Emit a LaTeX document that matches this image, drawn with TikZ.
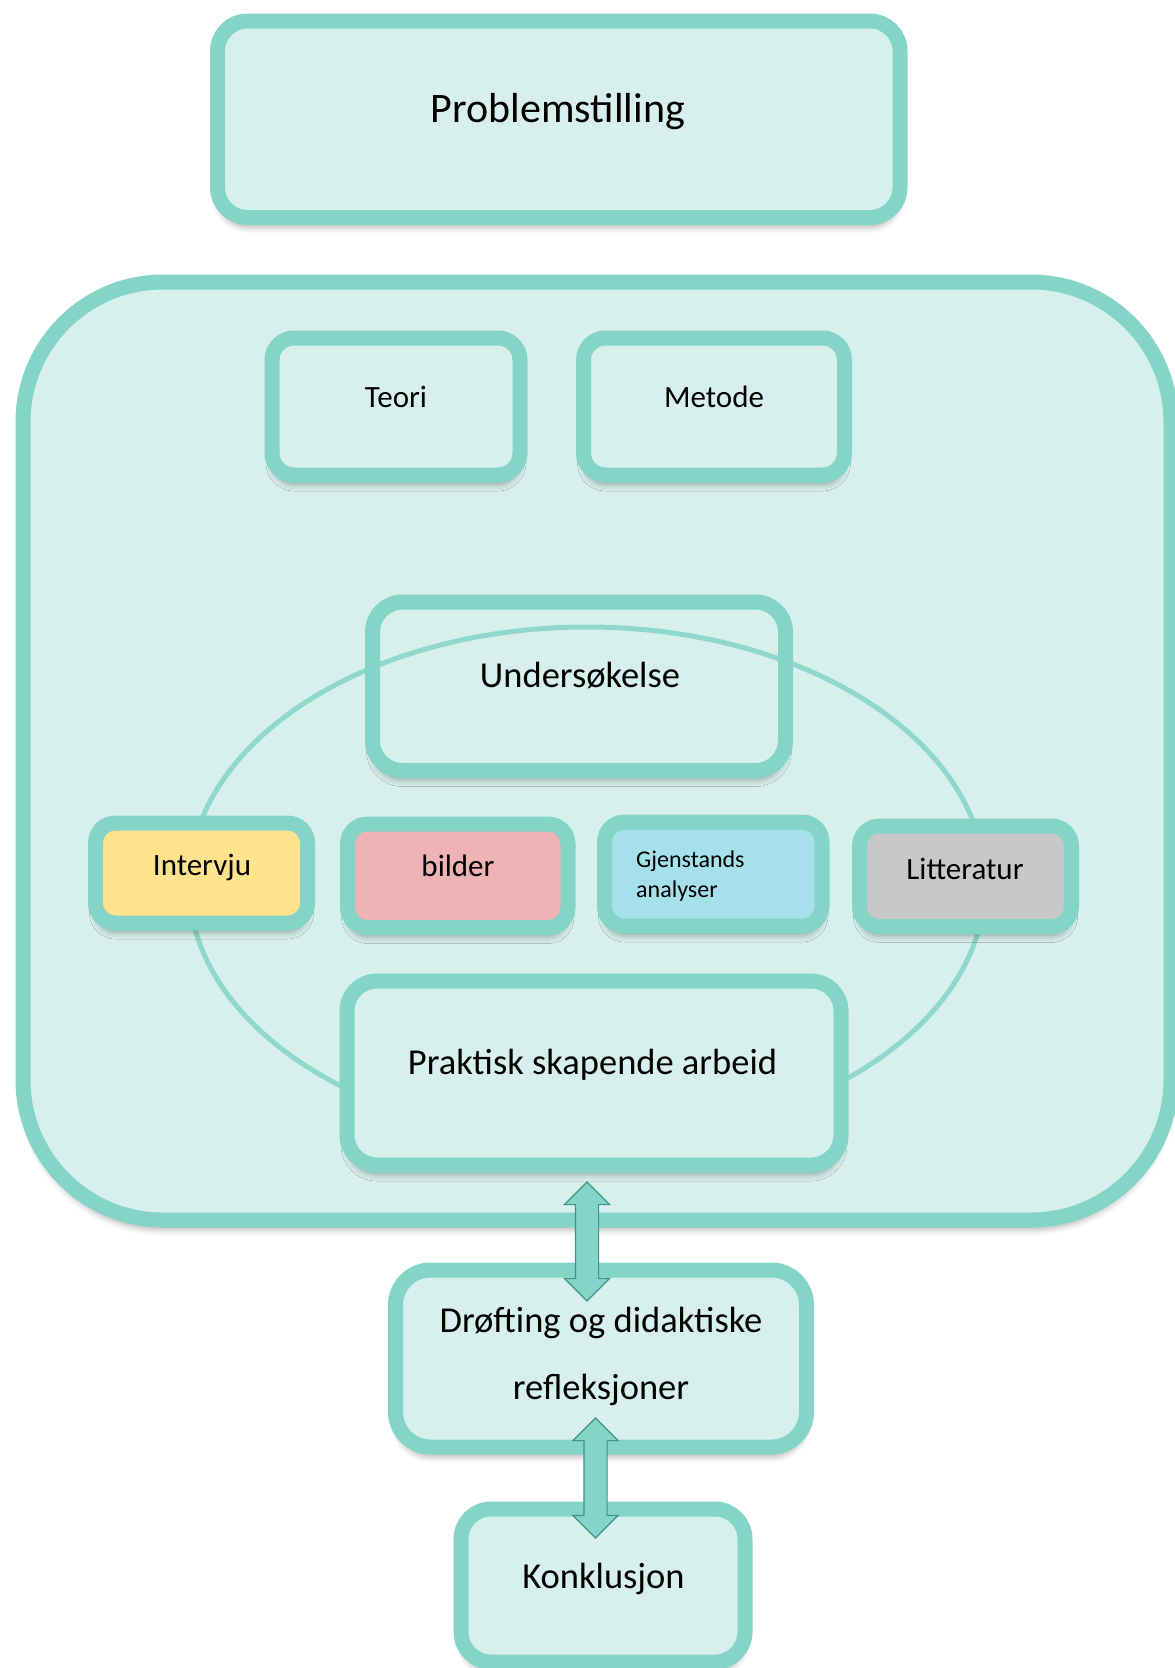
\documentclass[tikz,border=0pt]{standalone}
\usepackage{fontspec}
\setmainfont{Carlito}
\usetikzlibrary{shapes.arrows,shapes.geometric,shadows.blur}
\definecolor{bord}{HTML}{84D4C8}
\definecolor{fillc}{HTML}{D7F0EC}
\definecolor{yel}{HTML}{FFE38C}
\definecolor{pnk}{HTML}{EFB3B5}
\definecolor{blu}{HTML}{A6E1EB}
\definecolor{gry}{HTML}{C8C8C8}
\definecolor{arrline}{HTML}{3E9488}
\tikzset{
  boxst/.style={draw=bord, line width=15pt, fill=fillc, rounded corners=#1,
    inner sep=0pt, outer sep=0pt,
    blur shadow={shadow xshift=0pt, shadow yshift=-10pt, shadow blur radius=6pt, shadow opacity=28}},
  boxst/.default=22pt,
  txt/.style={anchor=base, inner sep=0pt, text=black},
  bigtxt/.style={txt, font=\fontsize{36.5}{67}\selectfont},
  midtxt/.style={txt, font=\fontsize{31}{36}\selectfont},
  dblarr/.style={shape=double arrow, draw=arrline, line width=1.2pt, fill=bord,
    inner sep=11pt, double arrow head extend=11pt, shape border rotate=90}
}
\begin{document}
\begin{tikzpicture}[x=1pt,y=-1pt]
\useasboundingbox (0,0) rectangle (1175,1668);
% top box
\node[boxst=30pt, minimum width=682.5pt, minimum height=196.5pt] (prob) at (558.75,119.25) {};
\node[txt, font=\fontsize{42}{50}\selectfont] (probT) at (558,122) {Problemstilling};
% container
\node[boxst=140pt, minimum width=1148pt, minimum height=938pt] (cont) at (597,751) {};
% Teori / Metode
\node[boxst, minimum width=248pt, minimum height=137pt] (teori) at (396,406.5) {};
\node[midtxt] (teoriT) at (396,407) {Teori};
\node[boxst, minimum width=261pt, minimum height=137pt] (metode) at (714,406.5) {};
\node[midtxt] (metodeT) at (714,407) {Metode};
% Undersokelse
\node[boxst=30pt, minimum width=413pt, minimum height=168.5pt] (unders) at (579,686.25) {};
\node[bigtxt] (undersT) at (580,687) {Undersøkelse};
% ellipse
\node[draw=bord, draw opacity=0.85, line width=5pt, ellipse, inner sep=0pt,
  minimum width=796pt, minimum height=514pt] (ell) at (587,884) {};
% coloured boxes
\node[boxst=20pt, fill=yel, minimum width=212pt, minimum height=100pt] (interv) at (201.5,873) {};
\node[midtxt] (intervT) at (202,875) {Intervju};
\node[boxst=20pt, fill=pnk, minimum width=220.5pt, minimum height=103.5pt] (bilder) at (457.75,875.75) {};
\node[midtxt] (bilderT) at (458,876) {bilder};
\node[boxst=20pt, fill=blu, minimum width=217.5pt, minimum height=104pt] (gjen) at (713.25,874) {};
\node[txt, anchor=base west, align=left, font=\fontsize{24}{30}\selectfont] (gjenT) at (636,897) {Gjenstands\\analyser};
\node[boxst=20pt, fill=gry, minimum width=212pt, minimum height=100.5pt] (litt) at (965.5,876.25) {};
\node[midtxt] (littT) at (965,879) {Litteratur};
% Praktisk
\node[boxst=30pt, minimum width=494pt, minimum height=184pt] (prak) at (594,1073) {};
\node[bigtxt] (prakT) at (592.5,1074) {Praktisk skapende arbeid};
% Drofting
\node[boxst=35pt, minimum width=411pt, minimum height=177pt] (drof) at (601,1358.5) {};
\node[bigtxt, align=center] (drofT) at (601,1399) {Drøfting og didaktiske\\refleksjoner};
% Konklusjon
\node[boxst=30pt, minimum width=284pt, minimum height=153pt] (konk) at (603,1585.5) {};
\node[bigtxt] (konkT) at (603.5,1588) {Konklusjon};
% arrows
\node[dblarr, minimum height=119pt] (arr1) at (587,1241.5) {};
\node[dblarr, minimum height=120pt] (arr2) at (595.5,1478) {};
\end{tikzpicture}
\end{document}
